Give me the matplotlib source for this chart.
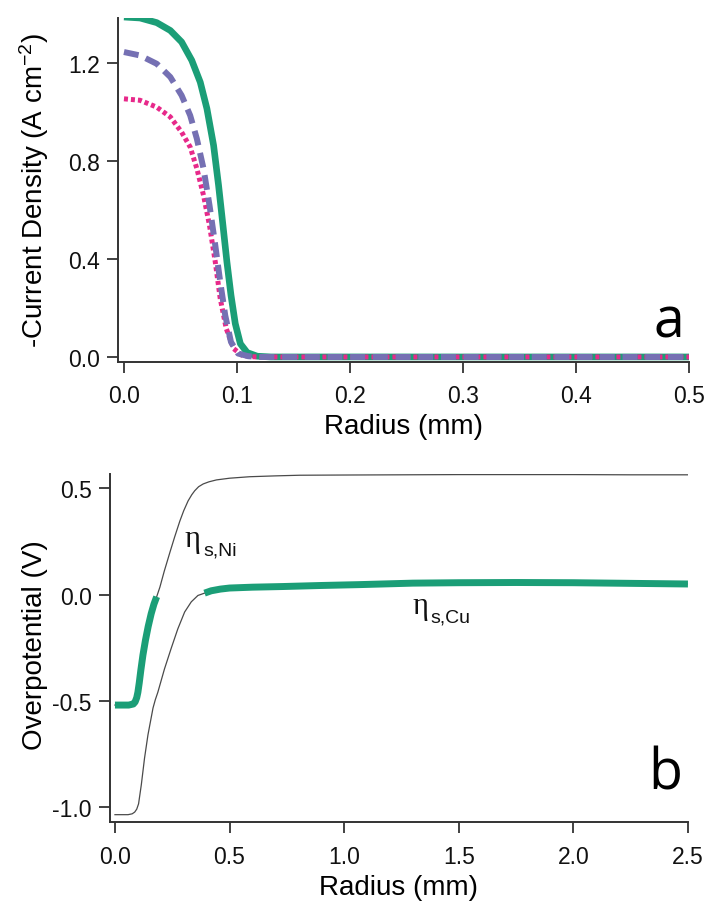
import matplotlib
matplotlib.use("Agg")
import matplotlib.pyplot as plt
import matplotlib.transforms as mtransforms
import numpy as np

plt.rcParams['font.family'] = ['Liberation Sans', 'DejaVu Sans']
plt.rcParams['mathtext.default'] = 'regular'
plt.rcParams['axes.unicode_minus'] = False

# ---------------- Panel a data ----------------
r_green = [0.0, 0.0142, 0.029, 0.041, 0.051, 0.060, 0.0675, 0.0734, 0.0793, 0.0837,
           0.0876, 0.0911, 0.0947, 0.0985, 0.103, 0.109, 0.118, 0.13, 0.2, 0.3, 0.4, 0.5]
j_green = [1.388, 1.384, 1.365, 1.333, 1.286, 1.211, 1.122, 1.014, 0.864, 0.701,
           0.537, 0.388, 0.252, 0.136, 0.054, 0.018, 0.003, 0.0, 0.0, 0.0, 0.0, 0.0]

r_purple = [0.0, 0.0142, 0.029, 0.041, 0.051, 0.0586, 0.0645, 0.0704, 0.0757, 0.0808,
            0.0852, 0.0896, 0.0947, 0.101, 0.110, 0.12, 0.2, 0.3, 0.4, 0.5]
j_purple = [1.245, 1.231, 1.197, 1.143, 1.068, 0.986, 0.891, 0.769, 0.619, 0.456,
            0.306, 0.170, 0.061, 0.014, 0.003, 0.0, 0.0, 0.0, 0.0, 0.0]

r_pink = [0.0, 0.0142, 0.029, 0.041, 0.051, 0.0586, 0.0645, 0.0704, 0.0757, 0.0808,
          0.0852, 0.0905, 0.097, 0.1045, 0.112, 0.12, 0.2, 0.3, 0.4, 0.5]
j_pink = [1.054, 1.048, 1.020, 0.980, 0.918, 0.857, 0.769, 0.660, 0.537, 0.388,
          0.238, 0.116, 0.034, 0.007, 0.001, 0.0, 0.0, 0.0, 0.0, 0.0]

a_xticks = [0.0, 0.1, 0.2, 0.3, 0.4, 0.5]
a_yticks = [0.0, 0.4, 0.8, 1.2]

# ---------------- Panel b data ----------------
r_ni = [0.0, 0.03, 0.06, 0.08, 0.088, 0.095, 0.100, 0.106, 0.113, 0.122, 0.133, 0.145,
        0.158, 0.170, 0.182, 0.196, 0.215, 0.24, 0.26, 0.283, 0.30, 0.319, 0.335, 0.348,
        0.365, 0.385, 0.41, 0.443, 0.5, 0.588, 0.7, 0.806, 1.0, 1.25, 1.5, 1.75, 2.0,
        2.25, 2.5]
eta_ni = [-0.52, -0.52, -0.52, -0.515, -0.505, -0.485, -0.46, -0.415, -0.355, -0.285, -0.215, -0.15,
          -0.09, -0.045, -0.01, 0.035, 0.11, 0.20, 0.27, 0.346, 0.395, 0.441, 0.47, 0.489,
          0.508, 0.521, 0.531, 0.540, 0.548, 0.555, 0.559, 0.562, 0.563, 0.564, 0.565, 0.565, 0.565,
          0.564, 0.564]

r_cu = [0.0, 0.03, 0.057, 0.075, 0.086, 0.095, 0.103, 0.115, 0.129, 0.144, 0.166, 0.176, 0.187,
        0.216, 0.245, 0.274, 0.304, 0.333, 0.362, 0.391, 0.42, 0.46, 0.5, 0.6, 0.73, 0.9,
        1.065, 1.3, 1.5, 1.75, 2.0, 2.25, 2.5]
eta_cu = [-1.036, -1.036, -1.036, -1.032, -1.024, -1.01, -0.985, -0.895, -0.77, -0.66, -0.534, -0.495, -0.46,
          -0.35, -0.254, -0.162, -0.082, -0.034, -0.004, 0.007, 0.018, 0.026, 0.031, 0.035, 0.038, 0.043,
          0.047, 0.054, 0.056, 0.057, 0.056, 0.053, 0.05]

b_xticks = [0.0, 0.5, 1.0, 1.5, 2.0, 2.5]
b_yticks = [-1.0, -0.5, 0.0, 0.5]

GREEN = '#1b9e77'
PURPLE = '#7570b3'
PINK = '#e7298a'
AXC = '#333333'

fig = plt.figure(figsize=(7.09, 9.04), dpi=100)
ax1 = fig.add_axes([0.1664, 0.5985, 0.8054, 0.3805])
ax2 = fig.add_axes([0.1551, 0.0896, 0.8152, 0.385])


def style(ax):
    for s in ['top', 'right']:
        ax.spines[s].set_visible(False)
    for s in ['left', 'bottom']:
        ax.spines[s].set_linewidth(1.4)
        ax.spines[s].set_color(AXC)
    ax.tick_params(axis='both', direction='out', length=8.2, width=1.3,
                   color=AXC, labelsize=16.5, labelcolor='#111111')
    ax.tick_params(axis='x', pad=8)
    ax.tick_params(axis='y', pad=4.8)


# Panel a
ax1.plot(r_green, j_green, color=GREEN, lw=4.8, solid_capstyle='butt', zorder=2)
ax1.plot(r_pink, j_pink, color=PINK, lw=3.6, dashes=(0.8, 0.6), zorder=3)
ax1.plot(r_purple, j_purple, color=PURPLE, lw=4.3, dashes=(2.5, 1.3), zorder=4)
ax1.set_xlim(-0.0053, 0.5)
ax1.set_ylim(-0.0204, 1.384)
ax1.set_xticks(a_xticks)
ax1.set_yticks(a_yticks)
ax1.set_xticklabels([f'{v:.1f}' for v in a_xticks])
ax1.set_yticklabels([f'{v:.1f}' for v in a_yticks])
style(ax1)
ax1.set_xlabel('Radius (mm)', fontsize=20)
ax1.set_ylabel('-Current Density (A cm$^{-2}$)', fontsize=20)
ax1.xaxis.set_label_coords(0.5, -0.148)
ax1.yaxis.set_label_coords(-0.117, 0.5)
ax1.text(0.991, 0.0727, 'a', transform=ax1.transAxes, ha='right', va='baseline',
         fontsize=40, family='Open Sans')

# Panel b
r_ni_a = np.array(r_ni)
eta_ni_a = np.array(eta_ni)
r_cu_a = np.array(r_cu)
eta_cu_a = np.array(eta_cu)

ax2.plot(r_ni, eta_ni, color='#4a4a4a', lw=0.9, zorder=2)
ax2.plot(r_cu, eta_cu, color='#4a4a4a', lw=0.9, zorder=2)
m_ni = eta_ni_a <= 0
m_cu = eta_cu_a > 0
ax2.plot(r_ni_a[m_ni], eta_ni_a[m_ni], color=GREEN, lw=5, solid_capstyle='butt', zorder=3)
ax2.plot(r_cu_a[m_cu], eta_cu_a[m_cu], color=GREEN, lw=5, solid_capstyle='butt', zorder=3)
ax2.set_xlim(-0.0218, 2.5)
ax2.set_ylim(-1.0705, 0.568)
ax2.set_xticks(b_xticks)
ax2.set_yticks(b_yticks)
ax2.set_xticklabels([f'{v:.1f}' for v in b_xticks])
ax2.set_yticklabels([f'{v:.1f}' for v in b_yticks])
style(ax2)
ax2.set_xlabel('Radius (mm)', fontsize=20)
ax2.set_ylabel('Overpotential (V)', fontsize=20)
ax2.xaxis.set_label_coords(0.5, -0.149)
ax2.yaxis.set_label_coords(-0.108, 0.51)
ax2.text(0.99, 0.095, 'b', transform=ax2.transAxes, ha='right', va='baseline',
         fontsize=40, family='Open Sans')


def eta_label(ax, x, y, sub):
    ax.text(x, y, '\u03b7', fontsize=22, family=['Liberation Serif', 'DejaVu Serif'],
            ha='left', va='baseline', color='#111111')
    tr = mtransforms.offset_copy(ax.transData, fig=fig, x=13, y=-5.8, units='points')
    ax.text(x, y, sub, fontsize=14, ha='left', va='baseline', color='#111111', transform=tr)


eta_label(ax2, 0.305, 0.228, 's,Ni')
eta_label(ax2, 1.298, -0.087, 's,Cu')

fig.savefig('out.png', dpi=100)
